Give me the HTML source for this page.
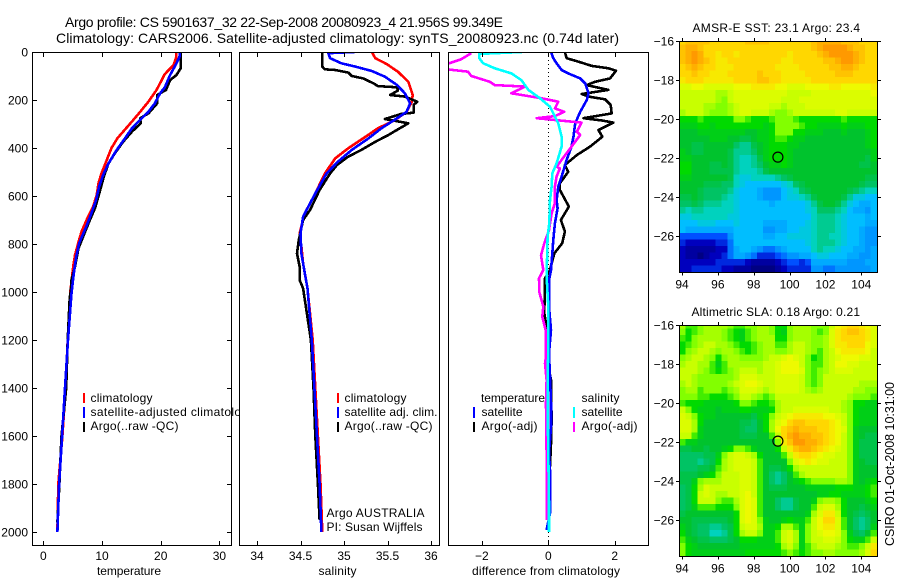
<!DOCTYPE html>
<html lang="en">
<head>
<meta charset="utf-8">
<title>Argo profile</title>
<style>
html,body{margin:0;padding:0;background:#fff;}
svg{display:block;position:absolute;left:0;top:0;}
text{font-family:"Liberation Sans",Arial,sans-serif;fill:#000;font-size:12px;}
.title{font-size:14px;}
</style>
</head>
<body>
<svg id="chart" xmlns="http://www.w3.org/2000/svg" width="900" height="580" viewBox="0 0 900 580">
<defs>
<clipPath id="clip-t"><rect x="32" y="52" width="199.5" height="493.5"/></clipPath>
<clipPath id="clip-s"><rect x="239" y="52" width="200.5" height="493.5"/></clipPath>
<clipPath id="clip-d"><rect x="448" y="52" width="200.5" height="493.5"/></clipPath>
<clipPath id="clip-m1"><rect x="679.5" y="41.5" width="198" height="231"/></clipPath>
<clipPath id="clip-m2"><rect x="679.5" y="325.5" width="198" height="231"/></clipPath>
</defs>
<rect width="900" height="580" fill="#fff"/>

<text class="title" x="65" y="27" textLength="438">Argo profile: CS 5901637_32 22-Sep-2008 20080923_4 21.956S 99.349E</text>
<text class="title" x="56" y="43" textLength="563">Climatology: CARS2006. Satellite-adjusted climatology: synTS_20080923.nc (0.74d later)</text>

<g id="panel-t">
<rect x="32.5" y="52.5" width="199" height="493" fill="#fff"/>
<g id="marks-t" clip-path="url(#clip-t)"></g>
<rect x="32.5" y="52.5" width="199" height="493" fill="none" stroke="#000"/>
<g id="ticks-t"></g>
<text x="97" y="575" textLength="64">temperature</text>
<rect x="83" y="393" width="2" height="10" fill="#f00"/>
<rect x="83" y="407" width="2" height="11" fill="#00f"/>
<rect x="83" y="422" width="2" height="10" fill="#000"/>
<text x="90.5" y="402" textLength="62">climatology</text>
<text x="90.5" y="416" textLength="164">satellite-adjusted climatology</text>
<text x="90.5" y="430" textLength="88">Argo(..raw -QC)</text>
</g>

<g id="panel-s">
<rect x="239.5" y="52.5" width="200" height="493" fill="#fff"/>
<g id="marks-s" clip-path="url(#clip-s)"></g>
<rect x="239.5" y="52.5" width="200" height="493" fill="none" stroke="#000"/>
<g id="ticks-s"></g>
<text x="318.5" y="575" textLength="38">salinity</text>
<rect x="337" y="393" width="2" height="10" fill="#f00"/>
<rect x="337" y="407" width="2" height="11" fill="#00f"/>
<rect x="337" y="422" width="2" height="10" fill="#000"/>
<text x="344.5" y="402" textLength="62">climatology</text>
<text x="344.5" y="416" textLength="93">satellite adj. clim.</text>
<text x="344.5" y="430" textLength="88">Argo(..raw -QC)</text>
<text x="326.5" y="517" textLength="98">Argo AUSTRALIA</text>
<text x="326.5" y="531" textLength="96">PI: Susan Wijffels</text>
</g>

<g id="panel-d">
<rect x="448.5" y="52.5" width="200" height="493" fill="#fff"/>
<g id="marks-d" clip-path="url(#clip-d)"></g>
<rect x="448.5" y="52.5" width="200" height="493" fill="none" stroke="#000"/>
<g id="ticks-d"></g>
<text x="472" y="575" textLength="148">difference from climatology</text>
<text x="481" y="402" textLength="64">temperature</text>
<text x="581.5" y="402" textLength="38">salinity</text>
<rect x="473" y="407" width="2" height="11" fill="#00f"/>
<rect x="473" y="422" width="2" height="10" fill="#000"/>
<rect x="573" y="407" width="2" height="11" fill="#0ff"/>
<rect x="573" y="422" width="2" height="10" fill="#f0f"/>
<text x="481.5" y="416" textLength="41">satellite</text>
<text x="481.5" y="430" textLength="56">Argo(-adj)</text>
<text x="581.5" y="416" textLength="41">satellite</text>
<text x="581.5" y="430" textLength="56">Argo(-adj)</text>
</g>

<g id="map-sst"></g>
<text x="692.5" y="32" textLength="167.5">AMSR-E SST: 23.1 Argo: 23.4</text>
<g id="map-sla"></g>
<text x="691.5" y="316" textLength="168.5">Altimetric SLA: 0.18 Argo: 0.21</text>
<text transform="translate(894 546) rotate(-90)" style="font-size:12.5px" textLength="164">CSIRO 01-Oct-2008 10:31:00</text>
</svg>

<script>
// ---- Profile data (depth in m; temperature degC; salinity psu; differences) ----
const tempClimDepth = [0,26,54,92,158,207,249,290,332,360,401,457,506,547,596,644,693,749,783,846,894,1000,1200,1400,1600,1800,2000];
const tempClim = [22.7,22.6,22.2,20.7,19.3,17.9,16.5,15.1,13.6,12.6,11.6,10.7,9.9,9.4,9.1,8.5,7.5,6.5,6.1,5.4,5.1,4.6,4.15,3.8,3.25,2.55,2.4];
const tempSatDepth = [0,20,47,96,147,172,214,249,283,318,360,408,464,512,561,617,672,728,797,853,922,1005,1200,1400,1600,1800,2000];
const tempSat = [23.3,23.2,22.7,21.6,20.7,19.9,19,17.9,16.5,15.1,13.9,12.5,11.1,10.2,9.5,9,8.2,7.3,6.1,5.6,5.2,4.8,4.2,3.7,3.2,2.7,2.4];
const tempArgoDepth = [0,68,96,117,158,179,214,256,276,297,332,374,422,464,519,575,651,714,769,818,894,950,992,1026,1200,1400,1600,1800,1960];
const tempArgo = [23.4,23.4,22.7,21.6,20.9,19.4,19.4,17.9,16.5,16.6,15.1,13.6,12.2,11.1,10.3,9.7,8.8,7.7,6.8,6,5.4,4.8,4.7,4.5,4.15,3.9,3.1,2.75,2.4];

const salClimDepth = [0,26,50,82,124,179,207,249,283,318,360,401,443,506,589,672,756,811,881,985,1200,1400,1600,1800,2000];
const salClim = [35.32,35.36,35.49,35.62,35.74,35.79,35.78,35.72,35.59,35.39,35.22,35.05,34.90,34.78,34.67,34.55,34.49,34.51,34.53,34.58,34.64,34.67,34.70,34.73,34.75];
const salSatDepth = [0,5,26,47,61,79,103,138,172,214,249,283,318,360,408,457,506,589,686,756,839,922,985,1200,1400,1600,1800,2000];
const salSat = [35.12,34.82,34.84,34.97,35.13,35.32,35.47,35.61,35.70,35.76,35.72,35.58,35.43,35.28,35.09,34.93,34.80,34.67,34.53,34.50,34.51,34.55,34.58,34.63,34.66,34.69,34.72,34.74];
const salArgoDepth = [0,61,72,75,86,100,110,131,142,147,161,179,186,207,221,253,258,279,288,297,318,346,374,408,436,471,506,575,658,700,783,839,894,950,985,1200,1400,1600,1800,1950];
const salArgo = [34.75,34.75,34.78,34.90,35.05,35.09,35.22,35.34,35.39,35.61,35.62,35.53,35.70,35.84,35.80,35.80,35.66,35.47,35.60,35.74,35.64,35.51,35.36,35.20,35.05,34.92,34.84,34.72,34.61,34.53,34.48,34.46,34.49,34.49,34.53,34.62,34.65,34.67,34.70,34.72];

const diffTSatDepth = [0,26,47,75,89,110,131,172,200,249,297,353,394,450,519,561,617,651,714,783,839,908,950,1061,1158,1256,1353,1464,1561,1672,1742,1922,1992];
const diffTSat = [0.08,0.15,0.25,0.4,0.6,0.96,1.11,1.21,1.16,0.96,0.81,0.76,0.70,0.55,0.40,0.30,0.25,0.28,0.2,0.15,0.12,0.08,0.02,0.02,0.08,0.02,0.05,0.08,0.08,0.02,0.05,0.05,-0.05];
const diffTArgoDepth = [0,26,40,58,68,78,110,124,138,158,175,186,197,221,256,276,285,294,325,353,394,429,471,499,547,575,644,700,748,797,839,908,943,1089,1144,1256,1325,1367,1533,1631,1728];
const diffTArgo = [0.5,0.55,0.9,1.31,1.81,2.04,1.86,1.41,1.16,1.81,1.01,1.21,1.71,1.88,1.91,1.06,1.6,1.96,1.51,1.63,1.26,0.86,0.5,0.6,0.35,0.35,0.62,0.38,0.5,0.42,0.18,0.05,-0.1,-0.12,-0.05,0,0.02,0.08,0.1,0.08,0.05];
const diffSSatDepth = [0,8,26,47,68,89,117,158,193,228,297,353,394,464,506,561,617,714,769,936,1061,1242,1353,1464,1672,1881,2000];
const diffSSat = [-0.79,-2.08,-2.08,-1.96,-1.61,-1.11,-0.81,-0.6,-0.25,0.05,0.3,0.4,0.4,0.25,0.12,0.1,0.05,0.03,-0.02,-0.05,0,0,-0.02,-0.02,0,0.02,0.02];
const diffSArgoDepth = [5,30,50,72,82,100,124,138,144,172,193,207,235,249,267,276,294,332,346,394,478,485,519,561,631,672,742,797,847,908,943,1000,1061,1103,1158,1269,1297,1367,1464,1672,1950];
const diffSArgo = [-2.32,-2.62,-3.05,-3.05,-2.42,-2.32,-1.76,-1.61,-0.7,-1.11,-0.2,0.3,0.2,0.48,0.2,-0.35,1.0,0.86,0.96,0.7,0.25,0.35,0.25,0.2,0.2,0.1,0.02,-0.12,-0.22,-0.15,-0.28,-0.27,-0.15,-0.18,-0.08,-0.07,-0.1,-0.05,-0.07,-0.05,-0.05];

// ---- Axis tick labels ----
const depthTicks = [0,200,400,600,800,1000,1200,1400,1600,1800,2000];
const tempTicks = [0,10,20,30];
const salTicks = [34,34.5,35,35.5,36];
const diffTicks = [-2,0,2];
const lonTicks = [94,96,98,100,102,104];
const latTicks = [-16,-18,-20,-22,-24,-26];

// ---- Float position ----
const floatLon = [99.349];
const floatLat = [-21.956];

// ---- Map grids: colour-level values, 1/3 degree cells, north to south ----
const sstGrid = [
[24,25,25,25,25,24,24,24,24,24,24,25,25,25,25,24,24,24,24,24,24,24,25,26,26,26,26,25,25,25,24,24,24],
[25,26,26,25,24,24,24,24,24,24,24,24,24,24,24,24,24,24,24,24,24,24,25,26,27,27,27,27,26,25,25,24,24],
[25,26,27,26,24,24,23,24,24,23,24,24,24,24,24,24,24,24,23,24,24,24,24,25,26,27,27,27,27,26,25,24,24],
[25,26,27,26,25,24,23,23,24,24,24,24,24,24,24,24,24,23,23,24,24,24,24,24,25,25,26,27,27,26,25,24,24],
[24,25,26,25,24,24,23,23,23,24,24,24,24,24,24,24,23,23,23,23,24,24,24,24,24,25,25,26,26,25,24,24,24],
[24,24,25,24,24,23,23,23,24,24,24,24,24,25,24,24,24,23,23,23,23,24,24,24,24,24,25,25,25,24,24,24,24],
[23,24,24,24,23,23,23,23,23,24,24,24,24,25,25,24,24,23,23,23,23,23,24,24,24,24,24,24,24,24,24,24,24],
[21,21,22,22,21,21,21,21,21,22,22,22,23,23,23,23,22,22,21,21,21,22,22,22,22,23,23,22,22,22,22,22,23],
[20,20,20,20,20,20,19,19,20,21,21,21,21,21,21,21,21,21,20,20,20,20,21,21,21,21,21,21,21,21,21,21,22],
[20,20,20,20,20,20,19,18,20,21,21,21,21,21,21,21,21,20,20,20,21,21,21,21,21,21,21,21,21,21,21,21,21],
[20,20,20,20,19,19,18,18,19,20,21,21,21,21,21,20,20,19,20,20,20,21,21,21,21,21,21,21,21,21,21,21,21],
[19,20,20,20,19,18,18,18,19,20,21,21,20,20,20,19,18,18,19,20,20,20,20,20,20,20,21,21,20,20,20,20,20],
[16,16,16,17,16,16,16,16,16,18,18,17,16,16,16,17,18,18,18,17,16,16,16,16,16,16,16,17,16,16,16,16,16],
[15,15,15,16,16,15,16,16,16,16,16,16,16,16,15,16,18,18,18,18,17,16,16,15,15,15,15,16,15,15,15,16,16],
[14,14,14,15,15,15,15,15,15,15,15,14,14,15,15,16,18,18,18,16,16,15,15,15,14,14,14,15,14,14,14,15,16],
[14,14,14,14,14,15,15,15,14,14,13,13,14,15,15,16,17,17,16,15,15,14,14,14,14,14,14,14,14,14,14,15,16],
[14,14,13,13,14,14,14,14,14,12,11,11,13,14,15,16,16,16,15,15,14,14,14,14,14,14,14,14,14,14,14,15,16],
[15,14,13,13,14,14,14,14,13,11,11,11,12,14,15,16,16,16,15,14,14,14,14,14,14,14,14,14,14,14,14,14,15],
[15,15,14,14,14,14,14,14,13,11,10,10,11,13,15,16,16,16,15,14,14,14,14,14,14,14,14,14,14,14,14,13,15],
[16,16,14,14,14,13,13,14,13,11,10,10,11,12,14,15,15,16,15,14,14,14,14,14,14,14,14,14,14,14,13,13,14],
[16,16,14,14,14,13,13,13,13,11,10,10,10,11,13,14,14,14,14,14,14,14,14,14,14,14,14,14,14,14,14,14,14],
[15,15,14,14,14,14,14,14,13,10,9,9,10,10,10,10,11,12,13,14,14,14,14,14,14,14,14,14,14,14,14,13,13],
[14,14,14,14,13,13,13,12,12,10,9,8,8,8,8,8,8,9,10,12,13,14,14,14,14,14,14,14,14,14,13,12,12],
[14,14,14,13,12,12,12,12,11,9,8,8,8,7,6,6,6,8,9,10,12,13,14,14,14,14,14,14,13,12,11,10,10],
[13,13,14,13,12,12,12,11,10,9,8,8,8,7,6,6,6,8,9,9,10,11,13,14,14,14,14,13,11,9,9,8,8],
[12,12,13,12,11,11,11,10,10,9,8,8,8,8,8,7,8,8,8,8,8,9,11,13,14,14,13,11,9,8,7,7,8],
[11,10,11,11,10,10,10,10,10,9,8,8,8,8,8,8,8,8,8,8,8,9,10,12,12,12,11,10,8,7,7,6,8],
[9,9,10,10,10,10,10,10,9,9,8,8,8,8,8,8,8,8,8,8,8,8,10,11,11,11,10,9,8,8,8,7,8],
[8,8,8,9,9,9,8,8,8,9,8,8,8,8,7,7,7,7,8,8,8,9,10,11,11,11,10,9,8,8,8,7,7],
[8,7,7,7,7,7,7,7,7,8,8,8,8,8,6,6,7,7,8,8,9,9,10,11,11,11,10,9,8,8,7,6,6],
[4,4,4,4,4,4,4,4,6,8,8,8,8,8,7,7,8,8,9,9,9,9,10,11,11,10,10,9,8,8,7,6,6],
[3,2,2,2,2,2,3,3,5,8,8,8,8,8,8,8,8,8,8,8,8,9,10,11,11,11,10,9,8,8,7,6,6],
[2,1,1,1,1,1,2,2,5,7,8,8,7,6,5,5,6,7,8,8,8,8,10,11,10,10,9,8,8,7,7,6,7],
[2,1,1,0,1,2,2,3,5,7,7,6,5,3,3,3,4,5,6,6,7,7,8,9,9,8,8,8,7,7,6,6,7],
[2,2,2,2,2,2,3,3,3,3,3,2,1,1,1,1,2,3,4,4,3,4,7,7,7,7,7,7,6,6,6,7,7],
[2,2,3,3,3,3,3,2,2,1,1,1,0,0,0,0,1,2,3,3,3,3,6,6,5,5,6,6,6,6,6,6,7]
];
const slaGrid = [
[19,17,17,18,19,19,19,19,18,17,17,18,18,19,19,18,16,16,18,19,19,19,18,18,18,20,22,23,24,24,23,22,21],
[18,16,17,18,19,19,19,18,17,16,15,17,18,19,19,18,16,15,18,19,19,19,18,17,18,21,23,24,25,25,24,23,21],
[17,16,18,19,19,19,19,18,17,16,15,17,18,19,19,19,16,16,18,19,19,19,18,18,19,21,23,24,24,24,24,23,21],
[16,17,18,19,20,20,19,19,18,17,16,16,17,18,19,19,17,17,19,20,20,19,18,18,19,21,23,23,24,24,24,22,21],
[16,18,19,20,20,19,18,19,19,18,17,16,17,18,19,19,18,18,19,20,20,19,18,17,19,20,22,23,23,23,23,22,20],
[18,19,20,20,19,18,16,18,19,19,18,18,18,18,19,20,20,21,22,21,20,18,16,17,19,20,21,22,22,22,21,21,20],
[19,20,20,19,19,17,15,17,19,19,19,19,19,19,20,20,21,22,22,22,20,18,17,17,19,20,22,22,21,21,20,20,20],
[20,20,20,19,18,17,16,17,18,19,20,20,20,19,20,20,21,22,22,22,21,18,17,18,19,20,21,21,21,20,20,20,20],
[20,20,19,18,18,18,18,18,18,19,21,21,21,20,20,20,21,21,21,21,20,18,17,18,20,20,20,20,20,20,20,20,20],
[19,20,19,18,18,18,18,18,19,20,21,22,22,21,20,20,21,21,21,21,20,18,17,18,20,20,20,20,20,20,19,19,19],
[18,19,19,17,18,18,18,17,18,19,21,21,21,20,19,20,21,21,21,21,20,19,18,19,20,20,20,20,20,19,19,18,18],
[18,18,18,17,17,16,16,16,17,18,20,20,19,18,17,18,20,20,20,20,20,20,20,20,20,20,20,20,19,18,18,18,17],
[17,16,16,16,15,15,15,15,15,16,18,18,17,16,16,17,19,20,20,20,20,20,20,20,20,20,20,19,18,16,16,15,15],
[20,18,16,15,15,15,14,15,15,15,16,16,15,15,15,16,19,20,20,21,21,21,21,21,21,20,20,19,18,16,15,15,15],
[21,20,18,16,15,15,14,14,14,14,14,14,13,15,16,18,20,21,22,23,23,23,23,23,22,22,21,20,18,16,15,15,15],
[21,21,19,16,14,14,14,14,14,14,13,13,12,14,16,19,21,22,24,25,25,24,24,24,24,23,22,20,18,16,15,15,15],
[21,21,19,15,14,14,14,14,14,14,13,12,12,14,16,19,22,24,25,26,25,25,25,24,24,23,22,21,18,15,14,14,14],
[20,20,17,15,14,14,14,14,14,14,13,13,13,14,14,17,20,24,26,27,26,26,25,25,24,23,22,20,18,15,14,13,13],
[17,15,15,14,14,14,14,14,14,14,14,14,14,14,14,14,18,23,25,27,27,26,26,25,24,23,22,20,18,15,13,13,13],
[13,13,14,14,13,14,14,15,16,18,18,17,15,14,14,14,16,20,23,25,26,26,25,24,23,22,21,20,18,15,13,13,13],
[12,12,12,12,13,13,15,18,20,21,21,20,19,16,14,14,14,17,20,23,24,24,23,22,21,21,20,20,18,15,13,13,13],
[12,12,12,11,12,13,16,19,20,21,21,21,20,17,14,14,14,14,18,21,22,23,22,21,21,20,20,20,18,15,14,13,13],
[12,12,12,13,13,14,17,19,20,21,21,21,20,17,14,13,13,14,16,19,20,20,20,20,20,20,20,20,18,15,14,14,14],
[13,13,13,14,15,16,18,20,20,20,21,21,20,17,14,12,11,12,14,17,19,20,20,20,20,20,20,20,18,15,14,14,14],
[13,13,15,18,19,19,19,20,20,20,21,21,20,17,14,12,11,12,14,15,16,17,18,18,18,18,19,19,18,15,14,15,16],
[12,13,16,19,21,20,20,20,20,20,21,21,20,17,14,13,13,13,14,14,14,15,15,15,15,15,16,16,16,15,15,16,17],
[12,13,16,20,21,20,19,19,20,20,21,22,20,17,14,14,14,14,14,14,14,14,14,15,15,16,16,15,15,15,15,16,17],
[12,13,16,20,20,20,18,17,17,19,21,22,21,17,14,14,12,11,11,13,14,14,15,18,19,19,18,16,14,14,14,15,16],
[12,13,15,17,17,17,16,16,16,18,21,22,21,17,14,14,12,11,11,13,14,14,17,20,21,21,19,16,14,14,13,14,15],
[13,14,14,14,14,14,14,14,14,16,21,22,21,17,14,14,14,14,14,14,14,15,19,21,23,23,20,16,14,13,12,13,14],
[14,14,13,13,13,13,13,13,14,16,21,22,21,18,15,14,14,15,16,15,15,17,20,22,24,24,21,17,14,12,11,12,14],
[15,14,13,12,12,11,11,12,13,16,20,21,21,19,15,15,16,19,19,17,15,18,20,22,23,23,21,17,14,12,11,12,15],
[16,14,13,12,12,10,10,11,13,16,19,20,20,18,15,15,17,20,21,19,15,18,20,21,22,22,21,18,15,13,12,14,17],
[17,15,14,13,13,12,12,12,13,14,16,16,16,15,15,15,17,20,21,19,15,18,20,20,21,21,20,18,16,15,15,17,20],
[18,16,15,14,14,14,14,14,14,14,15,15,15,15,15,15,16,19,20,18,15,17,19,20,20,20,19,18,17,17,18,20,23],
[18,16,15,15,15,15,15,15,15,15,15,16,16,16,16,16,16,17,18,17,16,17,18,18,19,19,18,18,18,18,19,21,24]
];

// ---- Colour ramp: one RGB stop for every 2 levels ----
const rampStops = [[0,0,130],[0,0,190],[0,80,255],[0,150,255],[0,190,255],[0,210,190],[0,195,100],[0,195,45],[0,218,0],[130,255,0],[200,255,0],[238,250,0],[255,215,0],[255,175,0],[255,130,0]];
function rampColor(v){
  const t = Math.max(0, Math.min(rampStops.length - 1.001, v / 2));
  const i = Math.floor(t), f = t - i;
  const a = rampStops[i], b = rampStops[i + 1];
  return 'rgb(' + a.map((c, k) => Math.round(c + (b[k] - c) * f)).join(',') + ')';
}

// ---- Axis functions ----
const NS = 'http://www.w3.org/2000/svg';
const depthY = d => 52 + d * 0.24;
const tempX = t => 43.3 + t * 5.87;
const salX = s => 257 + (s - 34) * 87;
const diffX = v => 548.3 + v * 33.2;
const lonX = l => 682 + (l - 94) * 17.93;
const latY = (lat, top) => top + (-16 - lat) * 19.5;

function mk(parent, tag, attrs){
  const el = document.createElementNS(NS, tag);
  for (const k in attrs) el.setAttribute(k, attrs[k]);
  parent.appendChild(el);
  return el;
}

function drawLine(group, depths, values, xScale, color, name){
  const pts = values.map((v, i) => xScale(v).toFixed(1) + ',' + depthY(depths[i]).toFixed(1)).join(' ');
  const el = mk(group, 'polyline', {points: pts, fill: 'none', stroke: color, 'stroke-width': 2.6, 'stroke-linejoin': 'round', 'shape-rendering': 'crispEdges'});
  
  
}

function label(group, x, y, str, anchor, name){
  const el = mk(group, 'text', {x: x, y: y, 'text-anchor': anchor});
  el.textContent = str;
  
  
}

function tick(group, x1, y1, x2, y2, name){
  const el = mk(group, 'line', {x1: x1, y1: y1, x2: x2, y2: y2, stroke: '#000', 'shape-rendering': 'crispEdges'});
  
  
}

function xTicks(group, ticks, scale){
  ticks.forEach(t => {
    const x = Math.round(scale(t)) + 0.5;
    tick(group, x, 545.5, x, 541, 'x-tick');
    tick(group, x, 52.5, x, 57, 'x-tick');
    label(group, scale(t), 560, String(t).replace('-', '\u2212'), 'middle', 'x-tick-label');
  });
}

// Temperature panel
const mT = document.getElementById('marks-t');
drawLine(mT, tempClimDepth, tempClim, tempX, '#f00', 'line-temperature-climatology');
drawLine(mT, tempArgoDepth, tempArgo, tempX, '#000', 'line-temperature-argo');
drawLine(mT, tempSatDepth, tempSat, tempX, '#00f', 'line-temperature-satellite');
const tT = document.getElementById('ticks-t');
xTicks(tT, tempTicks, tempX);
depthTicks.forEach(d => {
  const y = Math.round(depthY(d)) + 0.5;
  tick(tT, 32.5, y, 37, y, 'depth-tick');
  tick(tT, 231.5, y, 227, y, 'depth-tick');
  label(tT, 28, depthY(d) + 4.5, String(d), 'end', 'depth-tick-label');
});

// Salinity panel
const mS = document.getElementById('marks-s');
drawLine(mS, salClimDepth, salClim, salX, '#f00', 'line-salinity-climatology');
drawLine(mS, salArgoDepth, salArgo, salX, '#000', 'line-salinity-argo');
drawLine(mS, salSatDepth, salSat, salX, '#00f', 'line-salinity-satellite');
const tS = document.getElementById('ticks-s');
xTicks(tS, salTicks, salX);

// Difference panel
const mD = document.getElementById('marks-d');
const zeroLine = mk(mD, 'line', {x1: diffX(0), y1: 52, x2: diffX(0), y2: 545, stroke: '#000', 'stroke-dasharray': '1 3', 'shape-rendering': 'crispEdges'});


drawLine(mD, diffTArgoDepth, diffTArgo, diffX, '#000', 'line-diff-temperature-argo');
drawLine(mD, diffTSatDepth, diffTSat, diffX, '#00f', 'line-diff-temperature-satellite');
drawLine(mD, diffSArgoDepth, diffSArgo, diffX, '#f0f', 'line-diff-salinity-argo');
drawLine(mD, diffSSatDepth, diffSSat, diffX, '#0ff', 'line-diff-salinity-satellite');
const tD = document.getElementById('ticks-d');
xTicks(tD, diffTicks, diffX);

// Maps
function drawMap(gid, grid, top, clipId, prefix){
  const g = document.getElementById(gid);
  const cells = mk(g, 'g', {'clip-path': 'url(#' + clipId + ')', 'shape-rendering': 'crispEdges'});
  
  
  grid.forEach((row, r) => {
    const lat = -16 - r / 3;
    row.forEach((v, c) => {
      const lonW = 93.86 + c / 3;
      const x0 = lonX(lonW), x1 = lonX(lonW + 1 / 3);
      const y0 = latY(lat + 1 / 6, top), y1 = latY(lat - 1 / 6, top);
      const cell = mk(cells, 'rect', {x: x0.toFixed(2), y: y0.toFixed(2), width: (x1 - x0 + 0.4).toFixed(2), height: (y1 - y0 + 0.4).toFixed(2), fill: rampColor(v)});
      
      
    });
  });
  const frame = mk(g, 'rect', {x: 679.5, y: top + 0.5, width: 198, height: 231, fill: 'none', stroke: '#000', 'shape-rendering': 'crispEdges'});
  
  
  const bottom = top + 231.5;
  lonTicks.forEach(l => {
    const x = Math.round(lonX(l)) + 0.5;
    tick(g, x, top + 0.5, x, top - 3, prefix + '-lon-tick');
    tick(g, x, bottom, x, bottom + 3, prefix + '-lon-tick');
    label(g, lonX(l), bottom + 16, String(l), 'middle', prefix + '-lon-label');
  });
  latTicks.forEach(l => {
    const y = Math.round(latY(l, top)) + 0.5;
    tick(g, 679.5, y, 676, y, prefix + '-lat-tick');
    tick(g, 877.5, y, 881, y, prefix + '-lat-tick');
    label(g, 674, latY(l, top) + 4.5, String(l).replace('-', '\u2212'), 'end', prefix + '-lat-label');
  });
  const m = mk(g, 'circle', {cx: lonX(floatLon[0]), cy: latY(floatLat[0], top), r: 5, fill: 'none', stroke: '#000', 'stroke-width': 1.2});
  
  
}
drawMap('map-sst', sstGrid, 41, 'clip-m1', 'sst');
drawMap('map-sla', slaGrid, 325, 'clip-m2', 'sla');
</script>
</body>
</html>
